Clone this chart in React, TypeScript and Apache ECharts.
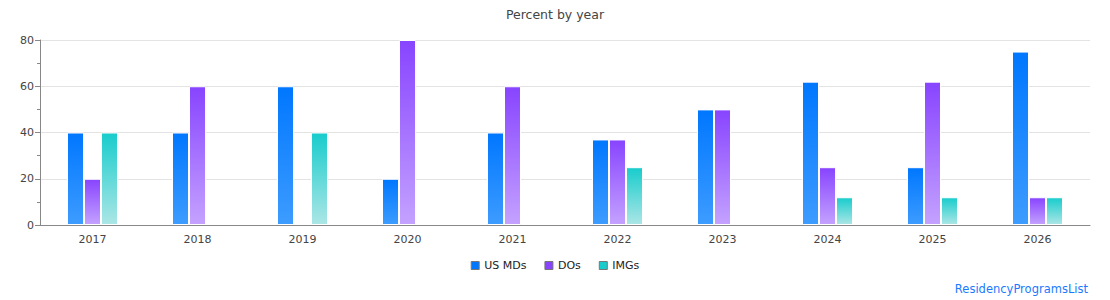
import React, { useEffect, useRef } from "react";
import * as echarts from "echarts";

const years = ["2017", "2018", "2019", "2020", "2021", "2022", "2023", "2024", "2025", "2026"];
const usMDs = [40, 40, 60, 20, 40, 37, 50, 62, 25, 75];
const dos = [20, 60, 0, 80, 60, 37, 50, 25, 62, 12];
const imgs = [40, 0, 40, 0, 0, 25, 0, 12, 12, 12];
const yTicks = [0, 20, 40, 60, 80];

const grad = (top: string, bottom: string) =>
  new echarts.graphic.LinearGradient(0, 0, 0, 1, [
    { offset: 0, color: top },
    { offset: 1, color: bottom },
  ]);

export default function App() {
  const ref = useRef<HTMLDivElement>(null);
  useEffect(() => {
    if (!ref.current) return;
    const chart = echarts.init(ref.current, undefined, { renderer: "svg" });
    const font = "DejaVu Sans";
    const mk = (name: string, data: number[], top: string, bottom: string) => ({
      name,
      type: "bar",
      data: data.map((v) => (v === 0 ? { value: v, itemStyle: { borderWidth: 0 } } : v)),
      barWidth: 17,
      barGap: "0%",
      itemStyle: { color: grad(top, bottom), borderColor: "#fff", borderWidth: 1 },
    });
    chart.setOption({
      animation: false,
      textStyle: { fontFamily: font },
      title: {
        text: "Percent by year",
        left: "center",
        top: 3,
        textStyle: { fontSize: 12.5, fontWeight: "normal", color: "#444", fontFamily: font },
      },
      legend: {
        bottom: 24,
        left: "center",
        icon: "rect",
        itemWidth: 8,
        itemHeight: 8,
        itemGap: 18,
        textStyle: { fontSize: 11, color: "#222", fontFamily: font },
        data: [
          { name: "US MDs", itemStyle: { color: "#0077ff", borderColor: "#777", borderWidth: 1 } },
          { name: "DOs", itemStyle: { color: "#8844ff", borderColor: "#777", borderWidth: 1 } },
          { name: "IMGs", itemStyle: { color: "#18cccc", borderColor: "#777", borderWidth: 1 } },
        ],
      },
      grid: { left: 40, right: 20, top: 40, bottom: 75 },
      xAxis: {
        type: "category",
        z: 5,
        data: years,
        axisLine: { lineStyle: { color: "#888" } },
        axisTick: { show: false },
        axisLabel: { fontSize: 11, color: "#444", margin: 9, fontFamily: font },
      },
      yAxis: {
        type: "value",
        min: yTicks[0],
        max: yTicks[yTicks.length - 1],
        interval: 20,
        axisLine: { show: true, lineStyle: { color: "#888" } },
        axisTick: { show: true, length: 5, lineStyle: { color: "#888" } },
        minorTick: { show: true, splitNumber: 2, length: 3, lineStyle: { color: "#888" } },
        splitLine: { lineStyle: { color: "#e3e3e3" } },
        axisLabel: { fontSize: 11, color: "#444", margin: 6, fontFamily: font },
      },
      series: [
        mk("US MDs", usMDs, "#0077ff", "#3d9cff"),
        mk("DOs", dos, "#8844ff", "#c4a2ff"),
        mk("IMGs", imgs, "#18cccc", "#ace6e6"),
      ],
      graphic: [
        {
          type: "text",
          right: 22,
          bottom: 5,
          style: {
            text: "ResidencyProgramsList",
            fontSize: 11.5,
            fill: "#1a7aff",
            fontFamily: font,
          },
        },
      ],
    });
    return () => chart.dispose();
  }, []);
  return (
    <div
      ref={ref}
      style={{ position: "fixed", left: 0, top: 0, width: 1110, height: 300, background: "#fff" }}
    />
  );
}
